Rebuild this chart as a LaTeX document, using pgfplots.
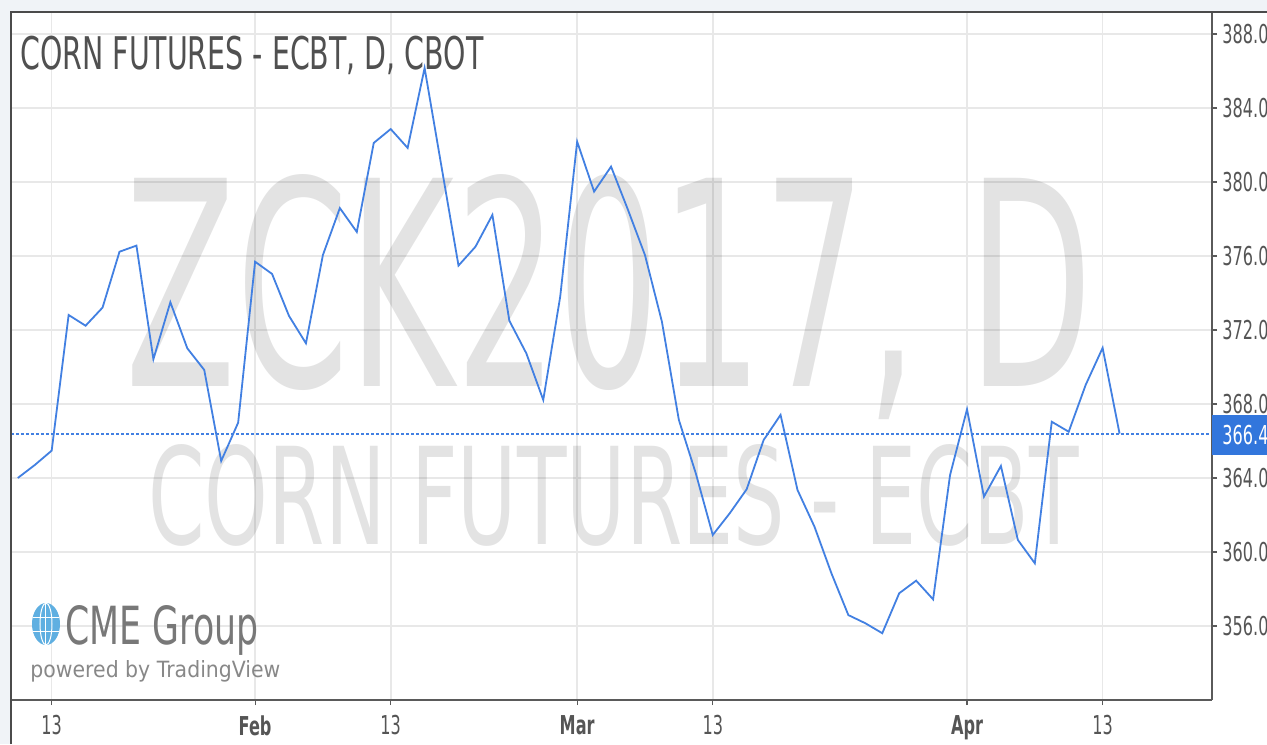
\documentclass[border=0pt]{standalone}
\usepackage{pgfplots}
\pgfplotsset{compat=1.18}
\usepackage{fontspec}
\setmainfont{DejaVu Sans}
\newfontfamily\tickfont{DejaVu Sans}[FakeStretch=0.62]

\definecolor{bgcol}{RGB}{240,243,247}
\definecolor{framecol}{RGB}{75,75,75}
\definecolor{axisgray}{RGB}{90,90,90}
\definecolor{gridcol}{RGB}{232,232,232}
\definecolor{linecol}{RGB}{66,128,226}
\definecolor{boxcol}{RGB}{50,118,220}
\definecolor{titlecol}{RGB}{80,80,80}
\definecolor{labelcol}{RGB}{85,85,85}
\definecolor{cmecol}{RGB}{120,120,120}
\definecolor{pbcol}{RGB}{136,136,136}
\definecolor{globecol}{RGB}{95,175,225}

% bar index (trading days from Jan 13) and close
\pgfplotstableread{
idx close
-2 364.00
-1 364.70
0 365.48
1 372.81
2 372.23
3 373.21
4 376.23
5 376.56
6 370.42
7 373.50
8 371.01
9 369.84
10 364.92
11 366.99
12 375.69
13 375.03
14 372.76
15 371.28
16 376.05
17 378.59
18 377.30
19 382.11
20 382.86
21 381.84
22 386.16
23 380.81
24 375.48
25 376.50
26 378.22
27 372.50
28 370.74
29 368.22
30 373.80
31 382.18
32 379.48
33 380.83
34 378.49
35 376.05
36 372.45
37 367.14
38 364.25
39 360.92
40 362.09
41 363.39
42 366.05
43 367.41
44 363.35
45 361.37
46 358.85
47 356.59
48 356.15
49 355.61
50 357.77
51 358.45
52 357.44
53 364.16
54 367.71
55 362.99
56 364.65
57 360.65
58 359.39
59 367.04
60 366.50
61 369.03
62 371.03
63 366.40
}\corndata

\begin{document}
\begin{tikzpicture}
\useasboundingbox (-5.5pt,-22pt) rectangle (628pt,350pt);
\fill[bgcol] (-5.5pt,-22pt) rectangle (628pt,350pt);
\fill[white] (0pt,-22pt) rectangle (628pt,343.75pt);

\begin{axis}[
  at={(0pt,0pt)}, anchor=south west,
  scale only axis,
  width=600.5pt, height=343.75pt,
  xmin=-2.401, xmax=68.454,
  ymin=352.0, ymax=389.16,
  axis line style={draw=none},
  tick align=outside,
  xtick pos=bottom, ytick pos=right,
  yticklabel pos=right,
  major tick length=2.5pt,
  tick style={color=axisgray, line width=0.6pt},
  grid=major,
  major grid style={color=gridcol, line width=0.8pt},
  xtick={0,12,20,31,39,54,62},
  xticklabels={13,\textbf{Feb},13,\textbf{Mar},13,\textbf{Apr},13},
  ytick={356,360,...,388},
  /pgf/number format/.cd, fixed, fixed zerofill, precision=1, assume math mode=true,
  /pgfplots/.cd,
  ticklabel style={font=\tickfont\fontsize{13pt}{15pt}\selectfont, text=labelcol},
  xticklabel style={anchor=north, inner sep=0pt, yshift=-5pt},
  yticklabel style={anchor=west, inner sep=0pt, xshift=2.5pt},
]
% watermark, under the price line and over the grid
\node[anchor=base west, inner sep=0pt, text=black, text opacity=0.11]
  at (axis cs:4.324,368.92) {\resizebox{484pt}{106pt}{ZCK2017, D}};
\node[anchor=base west, inner sep=0pt, text=black, text opacity=0.11]
  at (axis cs:5.681,360.38) {\resizebox{465pt}{50pt}{CORN FUTURES - ECBT}};

\addplot[draw=linecol, line width=1pt, dash pattern=on 1.5pt off 1pt]
  coordinates {(-2.401,366.4) (68.454,366.4)};
\addplot[draw=linecol, line width=0.9pt] table[x=idx, y=close] {\corndata};
\end{axis}

% frame
\draw[axisgray, line width=0.6pt] (600.5pt,0pt) -- (600.5pt,343.75pt);
\draw[axisgray, line width=1.1pt] (0pt,0pt) -- (600.5pt,0pt);
\draw[framecol, line width=1pt] (0pt,-22pt) -- (0pt,343.75pt) -- (628pt,343.75pt);

% last price box
\fill[boxcol] (600.5pt,122.5pt) rectangle (628pt,142.5pt);
\node[anchor=west, inner sep=0pt, text=white, font=\tickfont\fontsize{13pt}{15pt}\selectfont]
  at (605.5pt,132.5pt) {366.4};

% title
\node[anchor=base west, inner sep=0pt, text=titlecol] at (4.5pt,315pt)
  {\resizebox{231.5pt}{16.7pt}{CORN FUTURES - ECBT, D, CBOT}};

% logo
\fill[globecol] (17.5pt,38pt) ellipse [x radius=7pt, y radius=10.5pt];
\begin{scope}[white, line width=0.5pt]
  \draw (17.5pt,38pt) ellipse [x radius=3pt, y radius=10.5pt];
  \draw (17.5pt,27.5pt) -- (17.5pt,48.5pt);
  \draw (10.9pt,41.5pt) -- (24.1pt,41.5pt);
  \draw (10.9pt,34.5pt) -- (24.1pt,34.5pt);
\end{scope}
\node[anchor=base west, inner sep=0pt, text=cmecol] at (27pt,27.5pt)
  {\resizebox{96.5pt}{19.5pt}{CME Group}};
\node[anchor=base west, inner sep=0pt, text=pbcol] at (9.5pt,11.5pt)
  {\resizebox{125pt}{8.5pt}{powered by TradingView}};
\end{tikzpicture}
\end{document}
